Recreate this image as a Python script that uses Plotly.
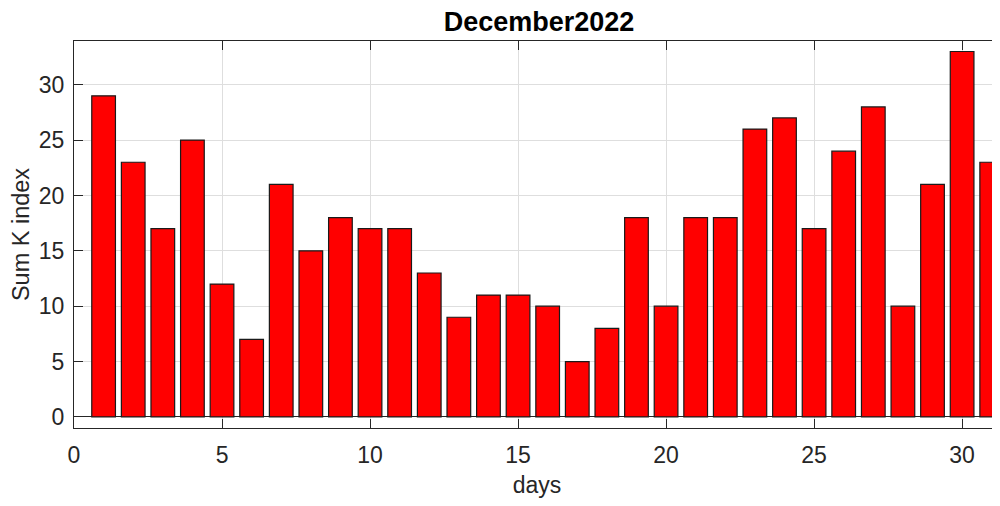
import plotly.graph_objects as go

days = list(range(1, 32))
sum_k = [29, 23, 17, 25, 12, 7, 21, 15, 18, 17, 17, 13, 9, 11, 11, 10,
         5, 8, 18, 10, 18, 18, 26, 27, 17, 24, 28, 10, 21, 33, 23]

FONT = "Liberation Sans, Arial"
TXT = "#262626"

fig = go.Figure()
fig.add_trace(
    go.Bar(
        x=days,
        y=sum_k,
        width=0.8,
        marker=dict(color="#ff0000", line=dict(color="#1a1a1a", width=1.2)),
    )
)

axis_common = dict(
    showline=True,
    linecolor=TXT,
    linewidth=1,
    ticks="inside",
    ticklen=9,
    tickcolor=TXT,
    showgrid=True,
    gridcolor="#dedede",
    gridwidth=1,
    automargin=False,
    tickfont=dict(family=FONT, size=23, color=TXT),
)

fig.update_xaxes(
    range=[0, 31.28],
    tickvals=[0, 5, 10, 15, 20, 25, 30],
    mirror="ticks",
    zeroline=False,
    ticklabelstandoff=6,
    title=dict(text="days", font=dict(family=FONT, size=23, color=TXT), standoff=14),
    **axis_common,
)
fig.update_yaxes(
    range=[-1, 33.95],
    tickvals=[0, 5, 10, 15, 20, 25, 30],
    zeroline=True,
    zerolinecolor=TXT,
    zerolinewidth=1,
    ticklabelstandoff=4,
    title=dict(text="Sum K index", font=dict(family=FONT, size=23.5, color=TXT), standoff=10),
    **axis_common,
)

# the page body has an 8px margin all round, so the figure is sized to fit inside it
fig.update_layout(
    width=992,
    height=490,
    margin=dict(l=66, r=0, t=33, b=70, autoexpand=False),
    paper_bgcolor="white",
    plot_bgcolor="white",
    showlegend=False,
    title=dict(
        text="<b>December2022</b>",
        x=531 / 992,
        xanchor="center",
        y=1 - 14 / 490,
        yanchor="middle",
        font=dict(family=FONT, size=27, color="black"),
    ),
)

fig.write_html("out.html")
